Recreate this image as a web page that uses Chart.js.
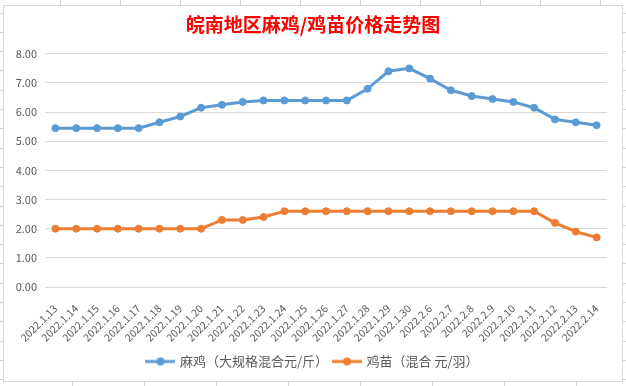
<!DOCTYPE html>
<html>
<head>
<meta charset="utf-8">
<script src="https://cdn.jsdelivr.net/npm/chart.js@4.4.0/dist/chart.umd.min.js"></script>
<style>
    html, body { margin: 0; padding: 0; background: #fff; }
    #wrap { width: 626px; height: 386px; }
</style>
</head>
<body>
<div id="wrap"><canvas id="priceChart" width="626" height="386"></canvas></div>
<script>
// ============================================
// DATOS
// ============================================
const categories = [
    '2022.1.13', '2022.1.14', '2022.1.15', '2022.1.16', '2022.1.17', '2022.1.18',
    '2022.1.19', '2022.1.20', '2022.1.21', '2022.1.22', '2022.1.23', '2022.1.24',
    '2022.1.25', '2022.1.26', '2022.1.27', '2022.1.28', '2022.1.29', '2022.1.30',
    '2022.2.6', '2022.2.7', '2022.2.8', '2022.2.9', '2022.2.10', '2022.2.11',
    '2022.2.12', '2022.2.13', '2022.2.14'
];
const majiPrices = [
    5.45, 5.45, 5.45, 5.45, 5.45, 5.65, 5.85, 6.15, 6.25, 6.35, 6.40, 6.40,
    6.40, 6.40, 6.40, 6.80, 7.40, 7.50, 7.15, 6.75, 6.55, 6.45, 6.35, 6.15,
    5.75, 5.65, 5.55
];
const jimiaoPrices = [
    2.0, 2.0, 2.0, 2.0, 2.0, 2.0, 2.0, 2.0, 2.3, 2.3, 2.4, 2.6,
    2.6, 2.6, 2.6, 2.6, 2.6, 2.6, 2.6, 2.6, 2.6, 2.6, 2.6, 2.6,
    2.2, 1.9, 1.7
];
const seriesNames = ['麻鸡（大规格混合元/斤）', '鸡苗（混合 元/羽）'];
const yMin = 0;
const yMax = 8;
const yStep = 1;

const BLUE = '#5B9BD5';
const ORANGE = '#ED7D31';
const TEXT = '#595959';
const FONT = "'Noto Sans CJK SC', 'Noto Sans', sans-serif";

// marca de leyenda: línea con punto
function legendMark(color) {
    const c = document.createElement('canvas');
    c.width = 30;
    c.height = 10;
    const g = c.getContext('2d');
    g.strokeStyle = color;
    g.lineWidth = 3;
    g.beginPath();
    g.moveTo(0, 5);
    g.lineTo(30, 5);
    g.stroke();
    g.fillStyle = color;
    g.beginPath();
    g.arc(15, 5, 4, 0, Math.PI * 2);
    g.fill();
    return c;
}
const marks = [legendMark(BLUE), legendMark(ORANGE)];

// fondo de hoja y borde del gráfico
const sheetBackground = {
    id: 'sheetBackground',
    beforeDraw(chart) {
        const ctx = chart.ctx;
        const w = chart.width, h = chart.height;
        ctx.save();
        ctx.fillStyle = '#fff';
        ctx.fillRect(0, 0, w, h);
        ctx.strokeStyle = '#D4D4D4';
        ctx.lineWidth = 1;
        ctx.beginPath();
        for (let x = 60.5; x < w; x += 60) { ctx.moveTo(x, 0); ctx.lineTo(x, 5); }
        for (let x = 72.5; x < w; x += 72) { ctx.moveTo(x, 382); ctx.lineTo(x, h); }
        for (let y = 12.5; y < h; y += 19.3) {
            ctx.moveTo(0, Math.round(y) + 0.5); ctx.lineTo(3, Math.round(y) + 0.5);
            ctx.moveTo(623, Math.round(y) + 0.5); ctx.lineTo(w, Math.round(y) + 0.5);
        }
        ctx.stroke();
        ctx.strokeStyle = '#D9D9D9';
        ctx.strokeRect(3.5, 5.5, 619, 376);
        ctx.restore();
    }
};

// ============================================
// GRÁFICA
// ============================================
const ctx = document.getElementById('priceChart').getContext('2d');
new Chart(ctx, {
    type: 'line',
    data: {
        labels: categories,
        datasets: [
            {
                label: seriesNames[0],
                data: majiPrices,
                borderColor: BLUE,
                backgroundColor: BLUE,
                borderWidth: 3,
                pointRadius: 3.5,
                pointBorderWidth: 1,
                pointBackgroundColor: BLUE,
                pointBorderColor: BLUE,
                tension: 0
            },
            {
                label: seriesNames[1],
                data: jimiaoPrices,
                borderColor: ORANGE,
                backgroundColor: ORANGE,
                borderWidth: 3,
                pointRadius: 3.5,
                pointBorderWidth: 1,
                pointBackgroundColor: ORANGE,
                pointBorderColor: ORANGE,
                tension: 0
            }
        ]
    },
    options: {
        responsive: false,
        animation: false,
        layout: { padding: { top: 5, left: 0, right: 0, bottom: 8 } },
        plugins: {
            title: {
                display: true,
                text: '皖南地区麻鸡/鸡苗价格走势图',
                color: '#FF0000',
                font: { family: FONT, size: 19, weight: 'bold', lineHeight: 1.2 },
                padding: { top: 8, bottom: 18 }
            },
            legend: {
                position: 'bottom',
                labels: {
                    usePointStyle: true,
                    pointStyleWidth: 26,
                    padding: 6,
                    color: TEXT,
                    font: { family: FONT, size: 13 },
                    generateLabels(chart) {
                        const items = Chart.defaults.plugins.legend.labels.generateLabels(chart);
                        items.forEach((it, i) => { it.pointStyle = marks[i]; });
                        return items;
                    }
                }
            },
            tooltip: { enabled: false }
        },
        scales: {
            x: {
                offset: true,
                grid: { display: false, drawTicks: false },
                border: { display: false },
                ticks: {
                    autoSkip: false,
                    minRotation: 45,
                    maxRotation: 45,
                    padding: 15,
                    color: TEXT,
                    font: { family: FONT, size: 10.5 }
                },
                afterFit(scale) { scale.height = 62; }
            },
            y: {
                min: yMin,
                max: yMax,
                grid: { color: '#D9D9D9', drawTicks: false },
                border: { display: false },
                ticks: {
                    stepSize: yStep,
                    padding: 8,
                    color: TEXT,
                    font: { family: FONT, size: 11 },
                    callback: v => v.toFixed(2)
                },
                afterFit(scale) { scale.width = 45; }
            },
            // margen derecho del área de trazado
            yRight: {
                position: 'right',
                display: true,
                grid: { display: false, drawTicks: false },
                border: { display: false },
                ticks: { display: false },
                afterFit(scale) { scale.width = 19; }
            }
        }
    },
    plugins: [sheetBackground]
});
</script>
</body>
</html>
